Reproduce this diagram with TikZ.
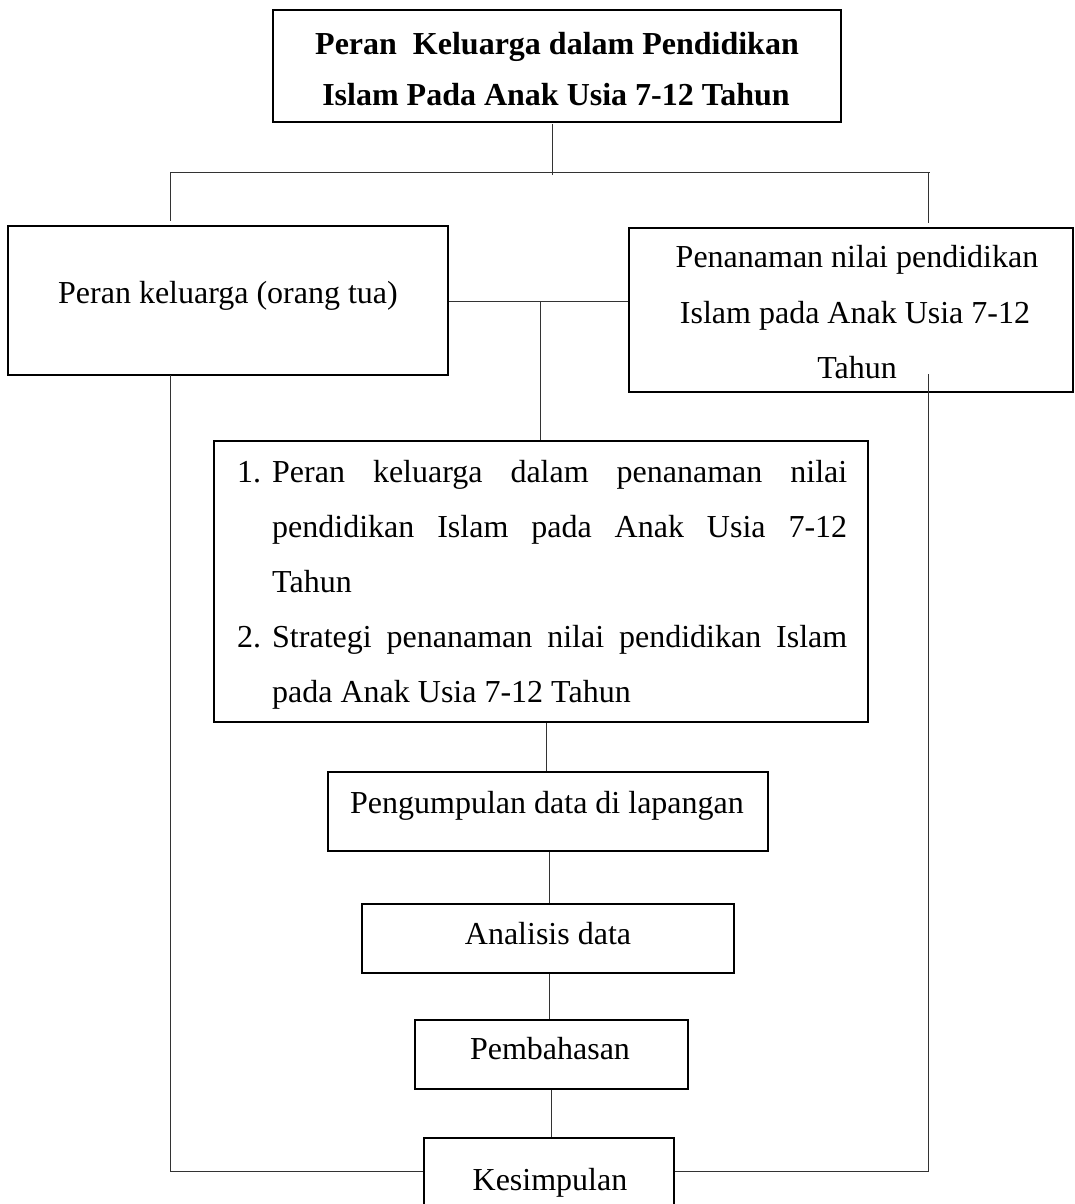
\documentclass[tikz,border=0pt]{standalone}
\usepackage{fontspec}
\setmainfont{Liberation Serif}
\begin{document}
\begin{tikzpicture}[x=1pt,y=-1pt,
  box/.style={draw=black,line width=1.6pt,inner sep=0pt},
  conn/.style={draw=black!80,line width=0.9pt},
  txt/.style={inner sep=0pt,anchor=base,font=\fontsize{32}{38}\selectfont},
  txtl/.style={inner sep=0pt,anchor=base west,font=\fontsize{32}{38}\selectfont},
  ttl/.style={inner sep=0pt,anchor=base,font=\fontsize{32}{38}\selectfont\bfseries}]
\useasboundingbox (0,0) rectangle (1075,1204);
% boxes
\node[box,minimum width=568pt,minimum height=112pt] (title) at (557,66) {};
\node[box,minimum width=440pt,minimum height=149pt] (left) at (228,300.5) {};
\node[box,minimum width=444pt,minimum height=164pt] (right) at (851,310) {};
\node[box,minimum width=654pt,minimum height=281pt] (mid) at (541,581.5) {};
\node[box,minimum width=440pt,minimum height=79pt] (peng) at (548,811.5) {};
\node[box,minimum width=372pt,minimum height=69pt] (anal) at (548,938.5) {};
\node[box,minimum width=273pt,minimum height=69pt] (pemb) at (551.5,1054.5) {};
\node[box,minimum width=250pt,minimum height=80pt] (kes) at (549,1178) {};
% texts
\node[ttl] (t1) at (557,55) {Peran\ \ Keluarga dalam Pendidikan};
\node[ttl] (t2) at (556,106) {Islam Pada Anak Usia 7-12 Tahun};
\node[txt] (l1) at (228,303) {Peran keluarga (orang tua)};
\node[txt] (r1) at (857,267) {Penanaman nilai pendidikan};
\node[txt] (r2) at (855,323) {Islam pada Anak Usia 7-12};
\node[txt] (r3) at (857,378) {Tahun};
\node[txtl] (n1) at (237,482) {1.};
\node[txtl] (m1) at (272,482) {\makebox[575pt][s]{Peran keluarga dalam penanaman nilai}};
\node[txtl] (m2) at (272,537) {\makebox[575pt][s]{pendidikan Islam pada Anak Usia 7-12}};
\node[txtl] (m3) at (272,592) {Tahun};
\node[txtl] (n2) at (237,647) {2.};
\node[txtl] (m4) at (272,647) {\makebox[575pt][s]{Strategi penanaman nilai pendidikan Islam}};
\node[txtl] (m5) at (272,702) {pada Anak Usia 7-12 Tahun};
\node[txt] (p1) at (547,813) {Pengumpulan data di lapangan};
\node[txt] (a1) at (548,944) {Analisis data};
\node[txt] (b1) at (550,1059) {Pembahasan};
\node[txt] (k1) at (550,1190) {Kesimpulan};
% junction coordinates
\coordinate (s0) at (552,124);
\coordinate (s1) at (552,175);
\coordinate (hl) at (170,172);
\coordinate (hr) at (930,172);
\coordinate (dl) at (170,221);
\coordinate (rt) at (928,172);
\coordinate (dr) at (928,223);
\coordinate (jm) at (540,301);
\coordinate (lb) at (170,375);
\coordinate (lc) at (170,1171);
\coordinate (rb) at (928,374);
\coordinate (rc) at (928,1171);
% connectors
\draw[conn] (s0) -- (s1);
\draw[conn] (hl) -- (hr);
\draw[conn] (hl) -- (dl);
\draw[conn] (rt) -- (dr);
\draw[conn] (left.east |- jm) -- (right.west |- jm);
\draw[conn] (jm) -- (jm |- mid.north);
\draw[conn] ([xshift=5pt]mid.south) -- ([xshift=-2pt]peng.north);
\draw[conn] ([xshift=1pt]peng.south) -- ([xshift=1pt]anal.north);
\draw[conn] ([xshift=1pt]anal.south) -- ([xshift=-2.5pt]pemb.north);
\draw[conn] ([xshift=-0.5pt]pemb.south) -- ([xshift=2pt]kes.north);
\draw[conn] (lb) -- (lc) -- (kes.west |- lc);
\draw[conn] (rb) -- (rc) -- (kes.east |- rc);
\end{tikzpicture}
\end{document}
